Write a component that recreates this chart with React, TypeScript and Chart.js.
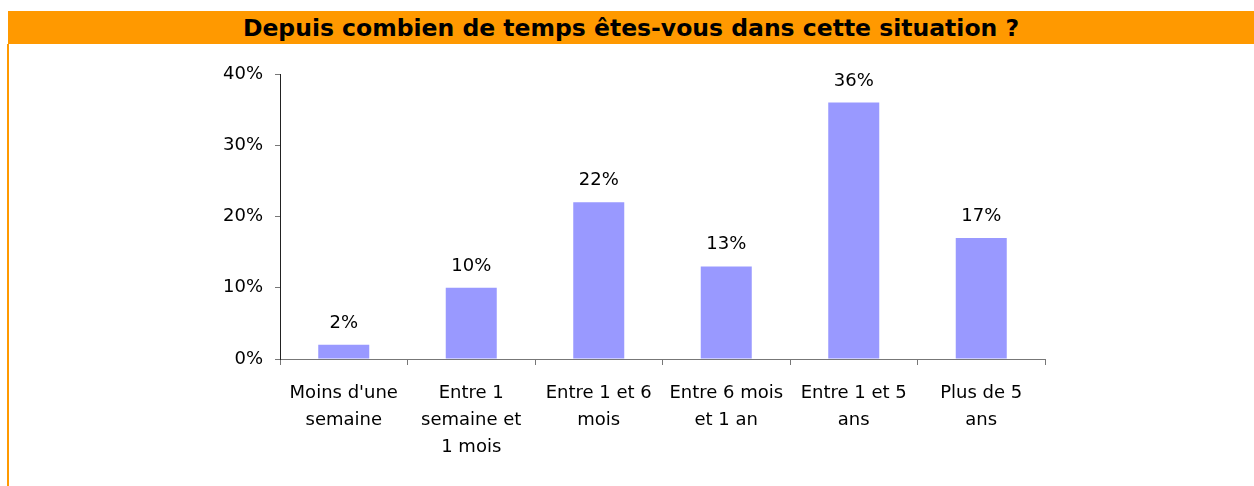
import React, { useEffect, useRef } from "react";
import { Chart, registerables } from "chart.js";

Chart.register(...registerables);

const title = "Depuis combien de temps êtes-vous dans cette situation ?";
const categories: string[][] = [
  ["Moins d'une", "semaine"],
  ["Entre 1", "semaine et", "1 mois"],
  ["Entre 1 et 6", "mois"],
  ["Entre 6 mois", "et 1 an"],
  ["Entre 1 et 5", "ans"],
  ["Plus de 5", "ans"],
];
const values = [2, 10, 22, 13, 36, 17];
const valueLabels = ["2%", "10%", "22%", "13%", "36%", "17%"];
const yTicks = [0, 10, 20, 30, 40];

const FONT = "'DejaVu Sans', Tahoma, sans-serif";

const dataLabelPlugin = {
  id: "dataLabels",
  afterDatasetsDraw(chart: any) {
    const ctx = chart.ctx;
    const meta = chart.getDatasetMeta(0);
    ctx.save();
    ctx.font = `18px ${FONT}`;
    ctx.fillStyle = "#000";
    ctx.textAlign = "center";
    ctx.textBaseline = "alphabetic";
    meta.data.forEach((bar: any, i: number) => {
      ctx.fillText(valueLabels[i], bar.x, bar.y - 17);
    });
    ctx.restore();
  },
};

export default function App() {
  const ref = useRef<HTMLCanvasElement>(null);
  useEffect(() => {
    const chart = new Chart(ref.current!, {
      type: "bar",
      data: {
        labels: categories,
        datasets: [
          {
            data: values,
            backgroundColor: "#9999FF",
            borderWidth: 0,
            barPercentage: 0.4,
            categoryPercentage: 1,
          },
        ],
      },
      options: {
        responsive: false,
        animation: false,
        devicePixelRatio: 1,
        layout: { padding: { left: 0, right: 209, top: 74, bottom: 0 } },
        plugins: { legend: { display: false }, tooltip: { enabled: false } },
        scales: {
          x: {
            offset: true,
            grid: {
              offset: true,
              drawOnChartArea: false,
              drawTicks: true,
              tickLength: 6,
              color: "#777",
            },
            border: { color: "#777", width: 1 },
            ticks: {
              color: "#000",
              font: { family: FONT, size: 18, lineHeight: 1.5 },
              padding: 15,
              maxRotation: 0,
              autoSkip: false,
            },
            afterFit(scale: any) {
              scale.height = 127;
            },
          },
          y: {
            min: 0,
            max: 40,
            afterBuildTicks(scale: any) {
              scale.ticks = yTicks.map((v) => ({ value: v }));
            },
            grid: {
              drawOnChartArea: false,
              drawTicks: true,
              tickLength: 5,
              color: "#777",
            },
            border: { color: "#222", width: 1 },
            ticks: {
              color: "#000",
              font: { family: FONT, size: 18 },
              padding: 12,
              callback: (v: any) => `${v}%`,
            },
            afterFit(scale: any) {
              scale.width = 280;
            },
          },
        },
      },
      plugins: [dataLabelPlugin],
    });
    return () => chart.destroy();
  }, []);

  return (
    <div>
      <div
        style={{
          position: "absolute",
          left: 8,
          top: 11,
          width: 1246,
          height: 33,
          background: "#FF9900",
          color: "#000",
          fontFamily: FONT,
          fontWeight: "bold",
          fontSize: 23.5,
          display: "flex",
          alignItems: "center",
          justifyContent: "center",
          whiteSpace: "nowrap",
        }}
      >
        {title}
      </div>
      <div
        style={{
          position: "absolute",
          left: 7,
          top: 44,
          width: 2,
          height: 442,
          background: "#FF9900",
        }}
      />
      <canvas
        ref={ref}
        width={1254}
        height={486}
        style={{ position: "absolute", left: 0, top: 0, width: 1254, height: 486 }}
      />
    </div>
  );
}
